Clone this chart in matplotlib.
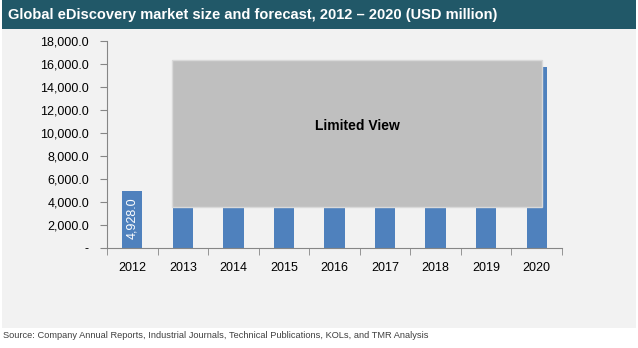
import numpy as np
import matplotlib.pyplot as plt
from matplotlib.patches import Rectangle
from matplotlib.ticker import FuncFormatter

plt.rcParams['font.family'] = ['Liberation Sans', 'DejaVu Sans']

years = ['2012', '2013', '2014', '2015', '2016', '2017', '2018', '2019', '2020']
# 2013-2019 are hidden behind the "Limited View" box, values are rough guesses
market_size = [4928.0, 7550.0, 8400.0, 9300.0, 10400.0, 11700.0, 13000.0, 14400.0, 15700.0]
labelled = ['2012']  # the only value label not covered by the box

title = 'Global eDiscovery market size and forecast, 2012 \u2013 2020 (USD million)'
source = 'Source: Company Annual Reports, Industrial Journals, Technical Publications, KOLs, and TMR Analysis'

W, H = 638, 348
fig = plt.figure(figsize=(W / 100, H / 100), dpi=100)
fig.patch.set_facecolor('white')

# grey panel + title bar (behind the axes)
fig.patches.append(Rectangle((2 / W, 1 - 328 / H), 634 / W, 299 / H,
                             transform=fig.transFigure, facecolor='#F2F2F2',
                             edgecolor='none', zorder=-2))
fig.patches.append(Rectangle((2 / W, 1 - 29 / H), 634 / W, 29 / H,
                             transform=fig.transFigure, facecolor='#215868',
                             edgecolor='none', zorder=-2))
fig.text(8 / W, 1 - 15 / H, title, color='white', fontsize=10.5,
         fontweight='bold', va='center', ha='left')
fig.text(3 / W, 1 - 336 / H, source, color='#404040', fontsize=6.7,
         va='center', ha='left')

ax = fig.add_axes([107 / W, 1 - 248 / H, 455 / W, 207 / H])
ax.patch.set_alpha(0)

x = np.arange(len(years))
bars = ax.bar(x, market_size, width=0.4, color='#4F81BD', zorder=2)
# labels sit inside the bar end
for xi, yr, v in zip(x, years, market_size):
    if yr not in labelled:
        continue
    ax.annotate(f'{v:,.1f}', (xi, v), xytext=(0, -4), textcoords='offset points',
                rotation=90, color='white', ha='center', va='top',
                fontsize=9, zorder=3)

ax.set_xlim(-0.5, len(years) - 0.5)
ax.set_ylim(0, 18000)
ax.set_yticks(np.arange(0, 18001, 2000))
ax.yaxis.set_major_formatter(FuncFormatter(lambda v, p: '-' if v == 0 else f'{v:,.1f}'))
ax.set_xticks(x)
ax.set_xticklabels(years)
ax.set_xticks(np.arange(-0.5, len(years)), minor=True)
ax.tick_params(axis='x', which='major', length=0, pad=10, labelsize=9)
ax.tick_params(axis='x', which='minor', length=5, color='#868686', direction='out')
ax.tick_params(axis='y', length=5, color='#868686', labelsize=9, pad=8)

for s in ['top', 'right']:
    ax.spines[s].set_visible(False)
for s in ['left', 'bottom']:
    ax.spines[s].set_color('#868686')

# "Limited View" overlay
fig.patches.append(Rectangle((172 / W, 1 - 207 / H), 370 / W, 147 / H,
                             transform=fig.transFigure, facecolor='#BFBFBF',
                             edgecolor='#D9D9D9', linewidth=1, zorder=5))
fig.text(357 / W, 1 - 126 / H, 'Limited View', fontsize=10, fontweight='bold',
         ha='center', va='center', zorder=6)

fig.savefig('out.png', dpi=100)
